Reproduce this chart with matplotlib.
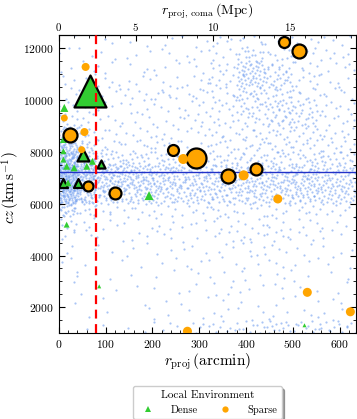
import numpy as np
import matplotlib
matplotlib.use("Agg")
import matplotlib.pyplot as plt
from matplotlib.ticker import AutoMinorLocator, MultipleLocator, FixedLocator
from matplotlib.lines import Line2D

plt.rcParams['font.family'] = 'serif'
plt.rcParams['font.serif'] = ['cmr10', 'DejaVu Serif']
plt.rcParams['mathtext.fontset'] = 'cm'
plt.rcParams['axes.formatter.use_mathtext'] = True
plt.rcParams['axes.unicode_minus'] = False

# ---------------- data ----------------
# Dense (green triangles)
dense_r = [67, 52, 89.5, 10, 42, 12, 10, 10, 10, 17, 33, 60, 72, 20, 193, 17, 86.5, 525]
dense_cz = [10330, 7890, 7530, 6800, 6800, 9690, 8470, 8020, 7700, 7440, 7380, 7440, 7630, 6800, 6310, 5190, 2810, 1310]
dense_msize = [23, 8.6, 5.8, 6.5, 6.5, 5.8, 5.0, 4.3, 4.3, 5.0, 5.0, 5.0, 5.0, 5.0, 6.5, 4.3, 2.9, 2.9]
dense_flag = [1, 1, 1, 1, 1, 0, 0, 0, 0, 0, 0, 0, 0, 0, 0, 0, 0, 0]

# Sparse (orange circles)
sparse_r = [24, 244, 293, 362, 422, 482, 513, 120, 63, 55, 49, 12, 57.5, 266, 395, 468, 531, 623, 275]
sparse_cz = [8650, 8050, 7760, 7080, 7350, 12220, 11870, 6410, 6670, 8760, 8080, 9300, 11270, 7720, 7090, 6180, 2580, 1830, 1080]
sparse_msize = [10.1, 7.9, 14.4, 10.1, 8.6, 7.9, 10.1, 8.6, 7.2, 5.8, 5.0, 5.0, 5.8, 7.2, 7.2, 6.5, 6.5, 6.5, 6.5]
sparse_flag = [1, 1, 1, 1, 1, 1, 1, 1, 1, 0, 0, 0, 0, 0, 0, 0, 0, 0, 0]

coma_cz = 7230          # horizontal line
r200_arcmin = 79.5      # vertical dashed line
arcmin_per_mpc = 32.9   # conversion for the top axis
mpc_ticks = [0, 5, 10, 15]

# background galaxy density (counts per cell)
bg_xedges = [0, 40, 80, 140, 200, 260, 320, 380, 440, 500, 560, 635]
bg_yedges = list(range(1000, 13000, 500))
bg_counts = [
    [0, 1, 1, 2, 4, 6, 8, 10, 12, 12, 12],
    [0, 1, 1, 1, 2, 2, 3, 3, 3, 3, 3],
    [1, 0, 1, 1, 1, 2, 2, 2, 2, 2, 2],
    [1, 1, 1, 1, 2, 2, 3, 3, 2, 2, 2],
    [1, 1, 1, 1, 2, 2, 3, 3, 3, 2, 2],
    [2, 1, 1, 2, 2, 2, 3, 3, 3, 3, 3],
    [2, 1, 2, 2, 2, 3, 3, 4, 4, 3, 3],
    [3, 2, 2, 3, 3, 3, 4, 7, 7, 4, 3],
    [6, 3, 3, 3, 4, 4, 5, 5, 5, 4, 4],
    [20, 7, 6, 6, 6, 6, 7, 7, 7, 7, 7],
    [60, 30, 26, 24, 22, 22, 22, 22, 22, 24, 26],
    [80, 45, 40, 36, 32, 28, 28, 28, 28, 30, 32],
    [80, 45, 40, 36, 28, 25, 25, 25, 25, 27, 28],
    [60, 25, 18, 16, 14, 12, 12, 14, 14, 14, 16],
    [40, 12, 8, 7, 7, 7, 8, 10, 10, 10, 10],
    [18, 6, 5, 5, 5, 5, 7, 9, 10, 10, 8],
    [7, 4, 4, 4, 4, 5, 7, 10, 18, 14, 8],
    [5, 3, 4, 4, 4, 5, 8, 14, 20, 12, 7],
    [3, 3, 4, 6, 8, 7, 8, 18, 14, 8, 6],
    [3, 3, 4, 4, 4, 4, 9, 28, 18, 7, 6],
    [2, 2, 3, 3, 3, 3, 7, 28, 14, 6, 5],
    [2, 2, 2, 3, 3, 3, 6, 14, 9, 6, 5],
    [1, 1, 2, 2, 2, 3, 5, 6, 6, 5, 4],
]

legend_labels = ['Dense', 'Sparse']
legend_title = 'Local Environment'
top_label = r'$r_{\rm proj,\,coma}\,(\rm Mpc)$'


def halton(i, b):
    f, r = 1.0, 0.0
    while i > 0:
        f /= b
        r += f * (i % b)
        i //= b
    return r


bg_x, bg_y = [], []
k = 1
for j, row in enumerate(bg_counts):
    for i, n in enumerate(row):
        x0, x1 = bg_xedges[i], bg_xedges[i + 1]
        y0, y1 = bg_yedges[j], bg_yedges[j + 1]
        for _ in range(n):
            bg_x.append(x0 + halton(k, 2) * (x1 - x0))
            bg_y.append(y0 + halton(k, 3) * (y1 - y0))
            k += 1

# ---------------- figure ----------------
fig = plt.figure(figsize=(3.57, 4.19), dpi=100)
ax_rect = [0.1644, 0.2045, 0.8328, 0.7119]
ax = fig.add_axes(ax_rect)

ax.scatter(bg_x, bg_y, s=2.5, color='cornflowerblue', alpha=0.55, linewidths=0, zorder=1)
ax.axhline(coma_cz, color='#2232c8', lw=1.0, zorder=2)


def draw(rs, czs, ms, flags, marker, color):
    rs = np.asarray(rs); czs = np.asarray(czs); ms = np.asarray(ms); fl = np.asarray(flags).astype(bool)
    order = np.argsort(-ms)
    for idx in order:
        ax.scatter(rs[idx], czs[idx], s=ms[idx] ** 2, marker=marker, color=color,
                   edgecolors='black' if fl[idx] else 'none',
                   linewidths=1.6 if fl[idx] else 0, zorder=3)


draw(dense_r, dense_cz, dense_msize, dense_flag, '^', '#32cd32')
draw(sparse_r, sparse_cz, sparse_msize, sparse_flag, 'o', 'orange')

ax.axvline(r200_arcmin, color='red', lw=1.6, ls=(0, (4, 2.5)), zorder=4)

ax.set_xlim(0, 635)
ax.set_ylim(1000, 12500)
ax.xaxis.set_major_locator(MultipleLocator(100))
ax.yaxis.set_major_locator(MultipleLocator(2000))
ax.xaxis.set_minor_locator(AutoMinorLocator(5))
ax.yaxis.set_minor_locator(AutoMinorLocator(4))
ax.tick_params(which='both', direction='in', labelsize=8.3, right=True)
ax.tick_params(which='major', length=4, width=0.8)
ax.tick_params(which='minor', length=2, width=0.6)
ax.tick_params(axis='x', which='both', top=False)

ax.set_xlabel(r'$r_{\rm proj}\,(\rm arcmin)$', fontsize=11, labelpad=1)
ax.set_ylabel(r'$cz\,(\rm km\,s^{-1})$', fontsize=11)
ax.yaxis.set_label_coords(-0.125, 0.49)

sec = ax.secondary_xaxis('top', functions=(lambda a: a / arcmin_per_mpc, lambda m: m * arcmin_per_mpc))
sec.xaxis.set_major_locator(FixedLocator(mpc_ticks))
sec.xaxis.set_minor_locator(FixedLocator(list(range(0, 20))))
sec.tick_params(which='both', direction='in', labelsize=7.8, pad=1.5)
sec.tick_params(which='major', length=4, width=0.8)
sec.tick_params(which='minor', length=2, width=0.6)
fig.text(ax_rect[0] + ax_rect[2] / 2, 0.997, top_label, fontsize=10, ha='center', va='top')

handles = [
    Line2D([], [], ls='none', marker='^', color='#32cd32', markersize=4.5, markeredgewidth=0),
    Line2D([], [], ls='none', marker='o', color='orange', markersize=4.5, markeredgewidth=0),
]
leg = ax.legend(handles, legend_labels, title=legend_title, loc='upper center',
                bbox_to_anchor=(0.5, -0.16), ncol=2, fontsize=7.5, title_fontsize=8,
                frameon=True, fancybox=True, shadow=True, columnspacing=1.6, handletextpad=1.2,
                borderpad=0.4)

fig.savefig('out.png', dpi=100)
